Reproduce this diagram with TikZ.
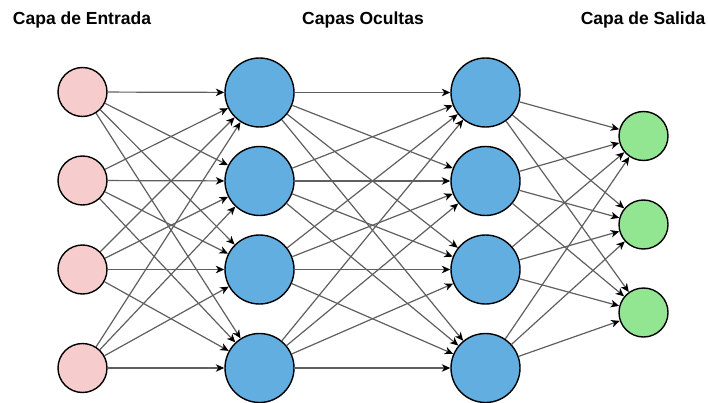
\documentclass[tikz,border=0pt]{standalone}
\usepackage{fontspec}
\setmainfont{Liberation Sans}
\usetikzlibrary{arrows.meta}
\definecolor{inpink}{RGB}{246,205,204}
\definecolor{hidblue}{RGB}{99,174,225}
\definecolor{outgreen}{RGB}{146,230,146}
\definecolor{edgegray}{RGB}{95,95,95}
\tikzset{
  neuron/.style={circle, draw=black, line width=1.4pt, inner sep=0pt},
  innode/.style={neuron, fill=inpink, minimum size=49pt},
  hidnode/.style={neuron, fill=hidblue, minimum size=69pt},
  outnode/.style={neuron, fill=outgreen, minimum size=49pt},
  conn/.style={draw=edgegray, line width=1.2pt, -{Stealth[length=8.5pt,width=7.5pt,inset=2.5pt,color=black]}},
  title/.style={font=\bfseries\fontsize{17.5}{20}\selectfont, anchor=base}
}
\begin{document}
\begin{tikzpicture}[x=1pt,y=-1pt]
\useasboundingbox (0,0) rectangle (708,403);
\node[title] (t1) at (82,25) {Capa de Entrada};
\node[title] (t2) at (363,25) {Capas Ocultas};
\node[title] (t3) at (643,25) {Capa de Salida};
\foreach \i/\y in {1/92,2/180.5,3/269.5,4/368} {
  \node[innode] (i\i) at (82.5,\y) {};
}
\foreach \i/\y in {1/92.5,2/181,3/269.5,4/368} {
  \node[hidnode] (a\i) at (259.5,\y) {};
  \node[hidnode] (b\i) at (485.5,\y) {};
}
\foreach \i/\y in {1/136,2/224.5,3/312.5} {
  \node[outnode] (o\i) at (643.5,\y) {};
}
\foreach \s in {1,2,3,4} {
  \foreach \t in {1,2,3,4} {
    \draw[conn] (i\s) -- (a\t);
    \draw[conn] (a\s) -- (b\t);
  }
  \foreach \t in {1,2,3} {
    \draw[conn] (b\s) -- (o\t);
  }
}
\end{tikzpicture}
\end{document}
